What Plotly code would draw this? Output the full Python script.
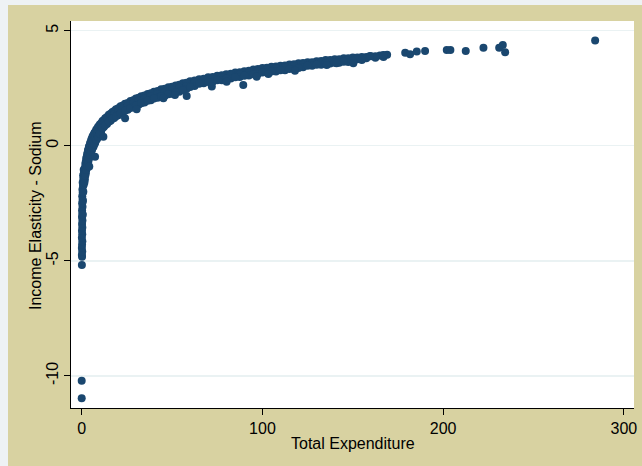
import plotly.graph_objects as go

# ---- data (Total Expenditure vs Income Elasticity - Sodium) ----
COL_X = [0.1, 0.2, 0.1, 0.3, 0.1, 0.2, 0.35, 0.1, 0.3, 0.15, 0.35, 0.2, 0.4, 0.15, 0.35, 0.2, 0.45, 0.25,
         0.5, 0.3, 0.55, 0.4, 0.7, 0.55, 0.9, 0.8, 1.2, 1.1, 0.6, 0.7, 0.9, 1.1, 1.4, 2.0, 2.6, 3.2]
COL_Y = [-5.19, -4.83, -4.75, -4.6, -4.45, -4.3, -4.15, -4.0, -3.85, -3.7, -3.55, -3.4, -3.25, -3.1, -2.95,
         -2.8, -2.65, -2.5, -2.35, -2.2, -2.05, -1.9, -1.75, -1.6, -1.45, -1.3, -1.2, -1.05, -3.0, -2.4, -2.0,
         -1.7, -1.4, -1.15, -0.95, -0.75]

UPPER_X = [1.5, 2, 2.5, 3, 3.5, 4, 4.6, 5.3, 6, 7, 8, 9, 10, 11.5, 13, 15, 17, 19, 21.5, 24, 27, 30, 33, 36.5,
           40, 44, 48, 52, 56, 60, 65, 70, 75, 80, 85, 90, 95, 100, 105, 110, 115, 120, 125, 130, 135, 140,
           145, 150, 155, 160, 165, 169]
UPPER_Y = [-1.1, -0.8, -0.56, -0.38, -0.2, -0.05, 0.1, 0.26, 0.4, 0.55, 0.69, 0.81, 0.92, 1.07, 1.19, 1.34,
           1.47, 1.58, 1.71, 1.82, 1.94, 2.05, 2.15, 2.25, 2.35, 2.45, 2.54, 2.62, 2.71, 2.8, 2.89, 2.97, 3.04,
           3.11, 3.18, 3.24, 3.31, 3.38, 3.43, 3.48, 3.53, 3.58, 3.63, 3.67, 3.72, 3.76, 3.8, 3.83, 3.86, 3.89,
           3.92, 3.95]

MID_X = [1.75, 2.25, 2.75, 3.25, 3.75, 4.3, 4.95, 5.65, 6.5, 7.5, 8.5, 9.5, 10.75, 12.25, 14, 16, 18, 20.25,
         22.75, 25.5, 28.5, 31.5, 34.75, 38.25, 42, 46, 50, 54, 58, 62.5, 67.5, 72.5, 77.5, 82.5, 87.5, 92.5,
         97.5, 102.5, 107.5, 112.5, 117.5, 122.5, 127.5, 132.5, 137.5, 142.5, 147.5, 152.5, 157.5, 162.5, 167]
MID_Y = [-1.2, -0.93, -0.72, -0.54, -0.38, -0.22, -0.07, 0.08, 0.22, 0.37, 0.5, 0.62, 0.85, 0.98, 1.12, 1.26,
         1.37, 1.5, 1.62, 1.73, 1.85, 1.95, 2.05, 2.15, 2.25, 2.35, 2.43, 2.52, 2.6, 2.74, 2.83, 2.9, 2.98,
         3.04, 3.11, 3.17, 3.24, 3.3, 3.36, 3.4, 3.46, 3.52, 3.57, 3.61, 3.66, 3.7, 3.73, 3.76, 3.8, 3.82, 3.86]

UPPER2_X = MID_X
UPPER2_Y = [-0.97, -0.7, -0.49, -0.31, -0.15, 0.0, 0.16, 0.31, 0.46, 0.6, 0.73, 0.85, 0.98, 1.11, 1.25, 1.39,
            1.51, 1.63, 1.75, 1.86, 1.98, 2.08, 2.18, 2.28, 2.38, 2.48, 2.56, 2.65, 2.74, 2.83, 2.91, 2.99,
            3.06, 3.13, 3.19, 3.26, 3.33, 3.39, 3.44, 3.49, 3.54, 3.59, 3.63, 3.68, 3.72, 3.76, 3.8, 3.83,
            3.86, 3.89, 3.92]

LOWER_X = [1.5, 2, 2.5, 3, 3.5, 4, 4.6, 5.3, 6, 7, 8, 9, 10, 11.5, 13, 15, 17, 19, 21.5, 24, 27, 30, 33, 36.5,
           40, 44, 48, 52, 56, 60, 65, 70, 75, 80, 85, 90, 95, 100, 105, 110, 115, 120, 125, 130, 135, 140,
           145, 150]
LOWER_Y = [-1.6, -1.3, -1.06, -0.88, -0.7, -0.55, -0.4, -0.24, -0.1, 0.05, 0.25, 0.38, 0.52, 0.77, 0.89, 1.04,
           1.17, 1.28, 1.41, 1.52, 1.64, 1.75, 1.85, 1.95, 2.05, 2.15, 2.24, 2.32, 2.41, 2.55, 2.69, 2.77, 2.84,
           2.91, 2.98, 3.04, 3.11, 3.18, 3.23, 3.28, 3.33, 3.38, 3.48, 3.52, 3.57, 3.61, 3.65, 3.68]

LOWER2_X = MID_X[:47]
LOWER2_Y = [-1.47, -1.2, -0.99, -0.81, -0.65, -0.5, -0.34, -0.19, -0.05, 0.13, 0.29, 0.43, 0.62, 0.81, 0.94,
            1.08, 1.2, 1.32, 1.44, 1.56, 1.67, 1.78, 1.88, 1.98, 2.08, 2.17, 2.26, 2.34, 2.46, 2.6, 2.71, 2.78,
            2.85, 2.92, 2.99, 3.05, 3.12, 3.18, 3.23, 3.28, 3.33, 3.41, 3.48, 3.52, 3.57, 3.61, 3.64]

OUT_X = [0, 0, 4.2, 7.4, 12, 24, 30.4, 45.2, 51.6, 58.1, 72, 80.2, 89.4, 96.8, 103.3, 118, 135.6, 141, 150.3]
OUT_Y = [-10.22, -10.98, -0.9, -0.48, 0.39, 1.19, 1.58, 2.06, 2.2, 2.16, 2.57, 2.78, 2.64, 3.0, 3.12, 3.26,
         3.51, 3.58, 3.58]

TAIL_X = [155, 159.5, 167, 179, 181.7, 185.4, 190, 202, 204, 212.5, 222.3, 231, 233, 234.3, 284.1]
TAIL_Y = [3.73, 3.9, 3.94, 4.04, 3.97, 4.09, 4.12, 4.16, 4.16, 4.12, 4.26, 4.26, 4.38, 4.06, 4.57]

X_TICKS = [0, 100, 200, 300]
Y_TICKS = [-10, -5, 0, 5]

xs = COL_X + UPPER_X + UPPER2_X + MID_X + LOWER2_X + LOWER_X + OUT_X + TAIL_X
ys = COL_Y + UPPER_Y + UPPER2_Y + MID_Y + LOWER2_Y + LOWER_Y + OUT_Y + TAIL_Y

NAVY = "#1A476F"
BEIGE = "#D8D2A1"
STRIP = "#EEF2F4"
FONT = "Liberation Sans, Arial, sans-serif"

fig = go.Figure(go.Scatter(
    x=xs, y=ys, mode="markers",
    marker=dict(size=8, color=NAVY, line=dict(width=0)),
    showlegend=False, hoverinfo="skip"))

W, H = 642, 466
ML, MR, MT, MB = 71, 8, 21, 58
PW, PH = W - ML - MR, H - MT - MB

def px2x(p):
    return (p - ML) / PW

def py2y(p):
    return (H - MB - p) / PH

fig.update_layout(
    width=W, height=H,
    margin=dict(l=ML, r=MR, t=MT, b=MB, pad=0),
    paper_bgcolor=BEIGE, plot_bgcolor="white",
    font=dict(family=FONT, size=16, color="black"),
    shapes=[
        dict(type="rect", xref="paper", yref="paper", x0=px2x(0), x1=px2x(8), y0=py2y(H), y1=py2y(0),
             fillcolor=STRIP, line=dict(width=0), layer="above"),
        dict(type="rect", xref="paper", yref="paper", x0=px2x(0), x1=px2x(W), y0=py2y(5), y1=py2y(0),
             fillcolor=STRIP, line=dict(width=0), layer="above"),
    ],
    xaxis=dict(
        range=[-5.92, 305.6], tickvals=X_TICKS, ticktext=[str(v) for v in X_TICKS],
        showgrid=False, zeroline=False, showline=True, linecolor="black", linewidth=1,
        ticks="outside", ticklen=6, tickcolor="black", tickwidth=1, ticklabeloverflow="allow",
        tickfont=dict(size=16), automargin=False),
    yaxis=dict(
        range=[-11.40, 5.42], tickvals=Y_TICKS, ticktext=[str(v) for v in Y_TICKS],
        showgrid=True, gridcolor="#EAF2F3", gridwidth=1.5, zeroline=False,
        showline=True, linecolor="black", linewidth=1,
        ticks="outside", ticklen=6, tickcolor="black", tickwidth=1, tickangle=-90,
        tickfont=dict(size=16), automargin=False),
    annotations=[
        dict(text="Total Expenditure", xref="paper", yref="paper", x=px2x(353), y=py2y(443),
             xanchor="center", yanchor="middle", showarrow=False, font=dict(size=16)),
        dict(text="Income Elasticity - Sodium", xref="paper", yref="paper", x=px2x(35), y=py2y(216),
             xanchor="center", yanchor="middle", textangle=-90, showarrow=False, font=dict(size=16)),
    ],
)

fig.write_html(
    "out.html",
    config={"displayModeBar": False, "staticPlot": True},
    post_script="document.body.style.margin='0';document.documentElement.style.overflow='hidden';",
)
